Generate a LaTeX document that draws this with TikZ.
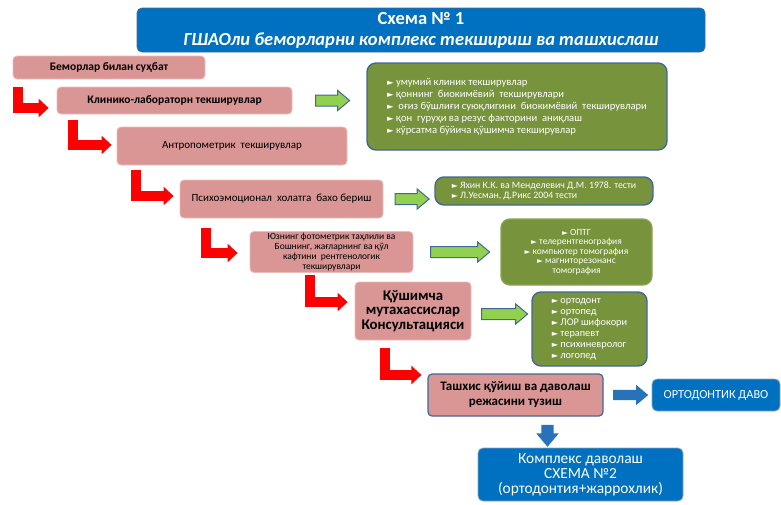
\documentclass[tikz,border=0pt]{standalone}
\usepackage{fontspec}
\setmainfont{Carlito}
\newfontfamily\belgi[Scale=0.8]{DejaVu Sans}
\usetikzlibrary{arrows.meta,shapes.arrows}

\definecolor{sarlavha}{RGB}{0,112,192}
\definecolor{pushti}{RGB}{217,150,148}
\definecolor{pushtichiziq}{RGB}{232,190,189}
\definecolor{yashil}{RGB}{119,147,60}
\definecolor{chegara}{RGB}{65,105,150}
\definecolor{och}{RGB}{146,208,80}
\definecolor{kok}{RGB}{40,114,186}

\newcommand{\uch}{{\belgi ►}}

\tikzset{
  pushtiquti/.style={draw=pushtichiziq, fill=pushti, line width=0.8pt,
    rounded corners=4pt, align=center, inner sep=0pt},
  yashilquti/.style={draw=chegara, fill=yashil, line width=1.4pt,
    rounded corners=9pt, text=white, inner sep=0pt},
  kokquti/.style={draw=chegara!60, fill=sarlavha, line width=0.8pt,
    rounded corners=5pt, text=white, align=center, inner sep=0pt},
  qizil/.style={draw=red, line width=10pt,
    -{Triangle[length=10pt,width=18pt]}},
  yashilok/.style={single arrow, draw=chegara, fill=och, line width=1pt,
    inner xsep=0pt, inner ysep=5pt, single arrow head extend=4.5pt,
    single arrow tip angle=80},
  kokok/.style={single arrow, fill=kok, inner xsep=0pt, inner ysep=5pt,
    single arrow head extend=5pt, single arrow tip angle=80}
}

\begin{document}
\begin{tikzpicture}[x=1pt,y=-1pt]
  \useasboundingbox (0,0) rectangle (781,504);

  %sarlavha
  \node[kokquti, draw=chegara, minimum width=568pt, minimum height=44pt,
    font=\bfseries\fontsize{18.5}{21}\selectfont] (t) at (421,30)
    {Схема № 1\\ \itshape ГШАОли беморларни комплекс текшириш ва ташхислаш};

  %pushti qutilar
  \node[pushtiquti, minimum width=192pt, minimum height=23pt, font=\bfseries\fontsize{11.5}{13}\selectfont]
    (b1) at (109,67.5) {Беморлар билан суҳбат};
  \node[pushtiquti, minimum width=235pt, minimum height=27pt, font=\bfseries\fontsize{11.5}{13}\selectfont]
    (b2) at (174.5,100.5) {Клинико-лабораторн текширувлар};
  \node[pushtiquti, minimum width=230pt, minimum height=38pt, font=\fontsize{11}{13}\selectfont]
    (b3) at (232,146) {Антропометрик \ текширувлар};
  \node[pushtiquti, minimum width=203pt, minimum height=38pt, font=\fontsize{11}{13}\selectfont]
    (b4) at (281.5,199) {Психоэмоционал \ холатга \ бахо бериш};
  \node[pushtiquti, minimum width=163pt, minimum height=41pt, font=\fontsize{9.5}{9.8}\selectfont]
    (b5) at (331.5,252) {Юзнинг фотометрик таҳлили ва\\ Бошнинг, жағларнинг ва қўл\\
     кафтини \ рентгенологик\\ текширувлари};
  \node[pushtiquti, minimum width=116pt, minimum height=58pt, font=\bfseries\fontsize{14.8}{14.5}\selectfont]
    (b6) at (413,311) {Қўшимча\\ мутахассислар\\ Консультацияси};
  \node[pushtiquti, draw=chegara, line width=1.2pt, minimum width=175pt, minimum height=42pt,
    font=\bfseries\fontsize{13}{15}\selectfont]
    (b7) at (515.5,395) {Ташхис қўйиш ва даволаш\\ режасини тузиш};

  %yashil qutilar
  \node[yashilquti, minimum width=300pt, minimum height=87pt, align=left,
    font=\fontsize{10.6}{12}\selectfont] (g1) at (517,106.5)
    {\uch{} умумий клиник текширувлар\\
     \uch{} қоннинг \ биокимёвий \ текширувлари\\
     \uch{} \ оғиз бўшлиғи суюқлигини \ биокимёвий \ текширувлари\\
     \uch{} қон \ гуруҳи ва резус факторини \ аниқлаш\\
     \uch{} кўрсатма бўйича қўшимча текширувлар};
  \node[yashilquti, minimum width=218pt, minimum height=28pt, align=left,
    font=\fontsize{9.8}{10}\selectfont] (g2) at (544,191)
    {\uch{} Яхин К.К. ва Менделевич Д.М. 1978. тести\\
     \uch{} Л.Уесман, Д.Рикс 2004 тести};
  \node[yashilquti, draw=yashil!85!white, minimum width=151pt, minimum height=66pt,
    align=center, font=\fontsize{9.5}{9.5}\selectfont] (g3) at (576.5,252)
    {\uch{} ОПТГ\\ \uch{} телерентгенография\\ \uch{} компьютер томография\\
     \uch{} магниторезонанс\\ томография};
  \node[yashilquti, minimum width=115pt, minimum height=74pt, align=left,
    font=\fontsize{10.3}{11}\selectfont] (g4) at (589.5,329)
    {\uch{} ортодонт\\ \uch{} ортопед\\ \uch{} ЛОР шифокори\\ \uch{} терапевт\\
     \uch{} психиневролог\\ \uch{} логопед};

  %kok qutilar
  \node[kokquti, minimum width=128pt, minimum height=32pt, font=\fontsize{12.3}{14}\selectfont]
    (o) at (716,395) {ОРТОДОНТИК ДАВО};
  \node[kokquti, minimum width=205pt, minimum height=53pt, font=\fontsize{15.4}{15}\selectfont]
    (k) at (580.5,474.5) {Комплекс даволаш\\ СХЕМА №2\\ (ортодонтия+жаррохлик)};

  %yashil strelkalar
  \path (b2.east) -- node[yashilok, minimum height=34pt] (a1) {} (b2.east -| g1.west);
  \path (b4.east) -- node[yashilok, minimum height=34pt] (a2) {} (b4.east -| g2.west);
  \path (b5.east) -- node[yashilok, minimum height=59pt] (a3) {} (b5.east -| g3.west);
  \path ([yshift=-3pt]b6.east) -- node[yashilok, minimum height=46pt] (a4) {} ([yshift=-3pt]b6.east -| g4.west);

  %kok strelkalar
  \path (b7.east) -- node[kokok, minimum height=35pt] (a5) {} (b7.east -| o.west);
  \path ([xshift=32pt]b7.south) -- node[kokok, rotate=-90, minimum height=22pt, inner ysep=6pt] (a6) {}
    ([xshift=32pt]b7.south |- k.north);

  %qizil burchak strelkalar
  \coordinate (r1) at (18,87);
  \coordinate (r2) at (73,120);
  \coordinate (r3) at (136,170);
  \coordinate (r4) at (206,228);
  \coordinate (r5) at (310,275);
  \coordinate (r6) at (385,348);
  \draw[qizil] (r1) |- ([xshift=-8pt,yshift=-7.5pt]b2.west);
  \draw[qizil] (r2) |- ([xshift=-5pt,yshift=1pt]b3.west);
  \draw[qizil] (r3) |- ([xshift=-6pt,yshift=3pt]b4.west);
  \draw[qizil] (r4) |- ([xshift=-12pt,yshift=-1pt]b5.west);
  \draw[qizil] (r5) |- ([xshift=-7pt,yshift=9pt]b6.west);
  \draw[qizil] (r6) |- ([xshift=-6pt,yshift=20pt]b7.west);
\end{tikzpicture}
\end{document}
